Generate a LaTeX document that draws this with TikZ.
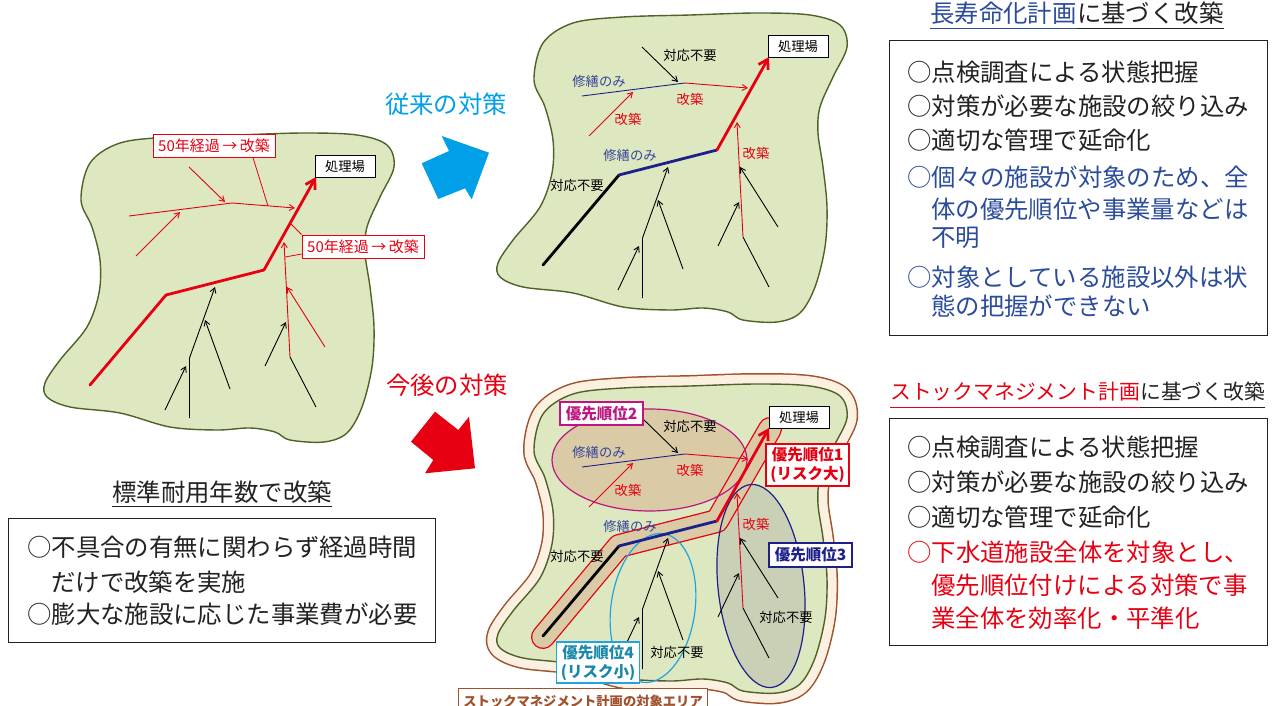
\documentclass[tikz,border=0pt]{standalone}
\usepackage{fontspec}
\setmainfont{Noto Sans CJK JP}
\usepackage{graphicx}
\usetikzlibrary{arrows.meta}

\definecolor{mapgreen}{HTML}{DDE8C0}
\definecolor{mapedge}{HTML}{4F6228}
\definecolor{pipered}{HTML}{E60012}
\definecolor{pipenavy}{HTML}{1D2088}
\definecolor{labnavy}{HTML}{34449A}
\definecolor{skyblue}{HTML}{00A0E9}
\definecolor{headnavy}{HTML}{2B4C9B}
\definecolor{textgray}{HTML}{222222}
\definecolor{areabrown}{HTML}{A0522D}
\definecolor{areacream}{HTML}{FCF0E0}
\definecolor{tanfill}{HTML}{DACBA6}
\definecolor{grayfill}{HTML}{C9D0B6}
\definecolor{pmagenta}{HTML}{BE1681}
\definecolor{lightblue}{HTML}{22A3DC}
\definecolor{tealtext}{HTML}{1A88AA}

\tikzset{
  map/.style={fill=mapgreen, draw=mapedge, line width=1.4pt, line join=round},
  pipe/.style={line width=0.9pt},
  feed/.style={pipe, -{Straight Barb[length=5pt,width=6pt]}},
  trunk/.style={line width=2.8pt, line cap=round},
  lab/.style={inner sep=0pt, font=\fontsize{13.3}{15}\selectfont},
  plantbox/.style={draw=black, fill=white, line width=0.9pt, minimum width=60pt,
    minimum height=22pt, inner sep=0pt, font=\fontsize{13.3}{15}\selectfont},
  agebox/.style={draw=pipered, fill=white, line width=0.8pt, minimum width=122pt,
    minimum height=23pt, inner sep=0pt, text=pipered, font=\fontsize{15}{17}\selectfont},
  rank/.style={fill=white, line width=1.2pt, minimum width=83pt, inner sep=0pt,
    align=center, font=\bfseries\fontsize{15.5}{19}\selectfont},
  bodytext/.style={inner sep=0pt, anchor=west, font=\fontsize{24.4}{29}\selectfont},
  infobox/.style={draw=textgray, line width=1pt, inner sep=0pt},
  bigarrow/.style={line join=miter},
}

% outline of one service area (drawn three times with shifts)
\newcommand\mapoutline[1]{\path[#1] plot[smooth cycle, tension=0.55] coordinates {
  (534,80) (543,43) (573,23) (623,17) (690,15) (757,13) (810,15) (840,25)
  (847,47) (833,77) (820,107) (818,133) (823,167) (827,207) (825,247)
  (815,287) (800,313) (777,322) (743,320) (728,312) (703,308) (670,310)
  (623,307) (573,293) (523,287) (500,277) (498,263) (513,240) (540,207)
  (552,173) (553,140) (545,107)};}

% sewer network: #1 lower trunk, #2 middle trunk, #3 upper branch, #4 side feeders
\newcommand\pipenet[4]{%
  \draw[trunk,#1] (543,265) -- (619,175);
  \draw[trunk,#2] (619,175) -- (717,150);
  \draw[trunk,pipered,-{Straight Barb[length=9pt,width=11pt]}] (717,150) -- (769,57);
  \draw[pipe,#3] (582,96) -- (685,83);
  \draw[feed,pipered] (685,83) -- (748,88);
  \draw[feed,#4] (642,47) -- (678,82);
  \draw[feed,pipered] (589,136) -- (633,92);
  \draw[feed,pipered] (743,237) -- (737,122);
  \draw[feed,#4] (778,227) -- (740,167);
  \draw[pipe] (743,237) -- (769,287);
  \draw[feed] (718,246) -- (739,202);
  \draw[feed] (642.5,298) -- (642.5,238) -- (668,167);
  \draw[feed] (618,290) -- (639,246);
  \draw[feed] (683,269) -- (658,200);
}

% measure labels on the network; #1 is a name prefix
\newcommand\netlabels[1]{%
  \node[lab,text=labnavy] (#1rep1) at (599,81) {修繕のみ};
  \node[lab] (#1none1) at (690,55) {対応不要};
  \node[lab,text=pipered] (#1ren1) at (690,99) {改築};
  \node[lab,text=pipered] (#1ren2) at (628,119) {改築};
  \node[lab,text=labnavy] (#1rep2) at (630,155) {修繕のみ};
  \node[lab] (#1none2) at (577,185) {対応不要};
  \node[lab,text=pipered] (#1ren3) at (756,153) {改築};
}

\begin{document}
\begin{tikzpicture}[x=1pt,y=-1pt]
\useasboundingbox (0,0) rectangle (1272,706);
\fill[white] (0,0) rectangle (1272,706);

% ---------- renewal by standard service life ----------
\begin{scope}[shift={(-453,120)}]
  \mapoutline{map}
  \pipenet{pipered}{pipered}{pipered}{pipered}
  \node[plantbox] (plantL) at (798,46) {処理場};
\end{scope}
\coordinate (onUpper) at (268,206);
\coordinate (onTrunk) at (290,223);
\coordinate (onBranch) at (285,257);
\node[agebox] (ageA) at (214,145.5) {50年経過\,→\,改築};
\node[agebox] (ageB) at (363,246.5) {50年経過\,→\,改築};
\draw[pipered,line width=0.8pt] (onUpper) -- (ageA.-17);
\draw[pipered,line width=0.8pt] (onTrunk) -- (ageB.north west);
\draw[pipered,line width=0.8pt] (onBranch) -- (ageB.187);

% ---------- conventional measures ----------
\mapoutline{map}
\pipenet{black}{pipenavy}{pipenavy}{black}
\node[plantbox] (plantT) at (798,46) {処理場};
\netlabels{t}

% ---------- stock management ----------
\begin{scope}[shift={(0,371)}]
  \mapoutline{draw=areabrown, line width=22pt, line join=round}
  \mapoutline{draw=areacream, line width=19pt, line join=round}
  \mapoutline{map}
  \fill[tanfill] (649.5,89) ellipse [x radius=97.5, y radius=51];
  \fill[grayfill, rotate around={6:(761,215)}] (761,215) ellipse [x radius=43, y radius=102];
  % priority-1 corridor along the trunk
  \draw[pipered, line width=24pt, line cap=round, line join=round]
    (543,266) -- (619,175) -- (717,150) -- (770,58);
  \draw[tanfill, line width=21.4pt, line cap=round, line join=round]
    (543,266) -- (619,175) -- (717,150) -- (770,58);
  \draw[pmagenta, line width=1.2pt] (649.5,89) ellipse [x radius=97.5, y radius=51];
  \draw[pipenavy, line width=1.2pt, rotate around={6:(761,215)}] (761,215) ellipse [x radius=43, y radius=102];
  \draw[lightblue, line width=1.2pt, rotate around={-8:(653,237)}] (653,237) ellipse [x radius=42, y radius=75];
  \pipenet{black}{pipenavy}{pipenavy}{black}
  \node[plantbox] (plantB) at (799,46) {処理場};
  \netlabels{b}
  \node[lab] (bnone3) at (786,246) {対応不要};
  \node[lab] (bnone4) at (677,281) {対応不要};
\end{scope}

\node[rank, draw=pmagenta, text=pmagenta, minimum height=23pt] (rank2) at (601.5,413.5) {優先順位2};
\node[rank, draw=pipered, text=pipered, minimum height=42pt] (rank1) at (807.5,465) {優先順位1\\(リスク大)};
\node[rank, draw=pipenavy, text=pipenavy, minimum height=24pt] (rank3) at (810.5,555) {優先順位3};
\node[rank, draw=lightblue, text=tealtext, minimum height=41pt] (rank4) at (598,662.5) {優先順位4\\(リスク小)};
\node[draw=areabrown, fill=white, line width=1.2pt, text=areabrown,
  font=\bfseries\fontsize{13.3}{15}\selectfont, minimum width=249pt,
  minimum height=26pt, inner sep=0pt, anchor=north west] (area) at (458,688)
  {ストックマネジメント計画の対象エリア};

% ---------- transition arrows ----------
\node[inner sep=0pt, text=skyblue, font=\fontsize{24.4}{29}\selectfont] (conv) at (446,104) {従来の対策};
\fill[skyblue, bigarrow] (421.7,163.3) -- (449,151) -- (441.7,136) -- (489,152.7)
  -- (471.7,199.3) -- (465,188.3) -- (438.3,199) -- cycle;
\node[inner sep=0pt, text=pipered, font=\fontsize{24.4}{29}\selectfont] (future) at (447,385) {今後の対策};
\fill[pipered, bigarrow] (435,411.7) -- (458.3,430) -- (469,416.7) -- (475,468.3)
  -- (425,473.3) -- (433.3,460) -- (411,441.7) -- cycle;

% ---------- left explanation ----------
\node[bodytext, text=textgray] (stdHead) at (112,492) {標準耐用年数で改築};
\coordinate (uL) at (0,506);
\draw[textgray, line width=1pt] (stdHead.west |- uL) -- (stdHead.east |- uL);
\node[infobox, minimum width=427pt, minimum height=124pt] (stdBox) at (221.5,580) {};
\node[bodytext, text=textgray] (s1) at (27,547) {○不具合の有無に関わらず経過時間};
\node[bodytext, text=textgray] (s2) at (51,582) {だけで改築を実施};
\node[bodytext, text=textgray] (s3) at (27,614) {○膨大な施設に応じた事業費が必要};

% ---------- right explanation: life extension ----------
\node[bodytext, text=headnavy] (lifeA) at (930,13) {長寿命化計画};
\node[bodytext, text=textgray] (lifeB) at (lifeA.east) {に基づく改築};
\coordinate (uT) at (0,29);
\draw[headnavy, line width=1pt] (lifeA.west |- uT) -- (lifeA.east |- uT);
\draw[textgray, line width=1pt] (lifeB.west |- uT) -- (lifeB.east |- uT);
\node[infobox, minimum width=378pt, minimum height=294pt] (lifeBox) at (1078,188) {};
\node[bodytext, text=textgray] (l1) at (907,72) {○点検調査による状態把握};
\node[bodytext, text=textgray] (l2) at (907,106) {○対策が必要な施設の絞り込み};
\node[bodytext, text=textgray] (l3) at (907,140) {○適切な管理で延命化};
\node[bodytext, text=headnavy] (l4) at (907,177) {○個々の施設が対象のため、全};
\node[bodytext, text=headnavy] (l5) at (931,209) {体の優先順位や事業量などは};
\node[bodytext, text=headnavy] (l6) at (931,238) {不明};
\node[bodytext, text=headnavy] (l7) at (907,277) {○対象としている施設以外は状};
\node[bodytext, text=headnavy] (l8) at (931,306) {態の把握ができない};

% ---------- right explanation: stock management ----------
\node[inner sep=0pt, anchor=west, text=pipered, font=\fontsize{20.8}{25}\selectfont] (smA) at (890,392) {ストックマネジメント計画};
\node[inner sep=0pt, anchor=west, text=textgray, font=\fontsize{20.8}{25}\selectfont] (smB) at (smA.east) {に基づく改築};
\coordinate (uB) at (0,407);
\draw[pipered, line width=1pt] (smA.west |- uB) -- (smA.east |- uB);
\draw[textgray, line width=1pt] (smB.west |- uB) -- (smB.east |- uB);
\node[infobox, minimum width=378pt, minimum height=227pt] (smBox) at (1078,531.5) {};
\node[bodytext, text=textgray] (m1) at (907,447) {○点検調査による状態把握};
\node[bodytext, text=textgray] (m2) at (907,482) {○対策が必要な施設の絞り込み};
\node[bodytext, text=textgray] (m3) at (907,517) {○適切な管理で延命化};
\node[bodytext, text=pipered] (m4) at (907,552) {○下水道施設全体を対象とし、};
\node[bodytext, text=pipered] (m5) at (931,585) {優先順位付けによる対策で事};
\node[bodytext, text=pipered] (m6) at (931,618) {業全体を効率化・平準化};
\end{tikzpicture}
\end{document}
